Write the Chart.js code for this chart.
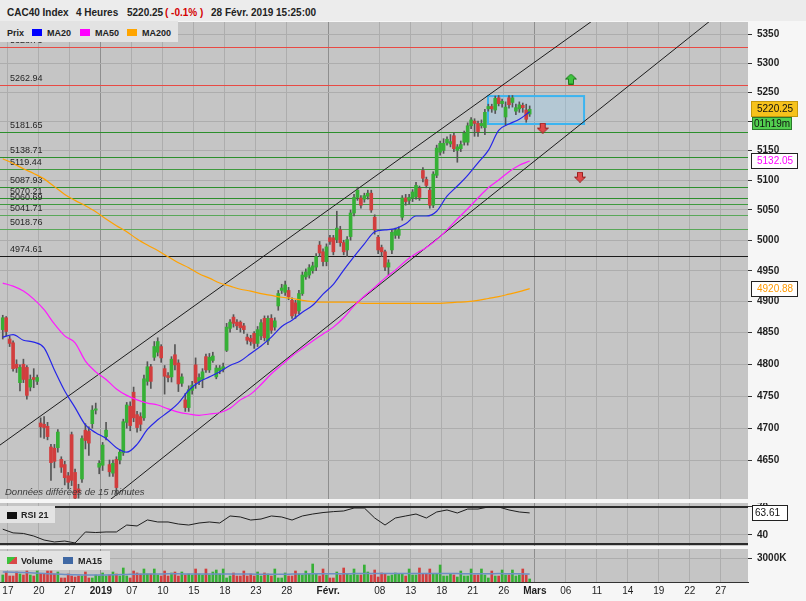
<!DOCTYPE html>
<html>
<head>
<meta charset="utf-8">
<script src="https://cdn.jsdelivr.net/npm/chart.js@4.4.1/dist/chart.umd.min.js"></script>
<style>
  body { margin: 0; background: #f6f6f6; font-family: 'Liberation Sans', Arial, sans-serif; }
  #wrap { position: relative; width: 806px; height: 601px; overflow: hidden; }
  canvas { position: absolute; left: 0; }
  .hdr { position: absolute; left: 0; top: 0; width: 806px; height: 21px; background: #ececec; font-weight: bold; font-size: 10px; color: #222; }
  .hdr span, .leg span { position: absolute; white-space: nowrap; line-height: 12px; }
  .hdr span { top: 7px; }
  .leg { position: absolute; left: 0; background: #e3e3e3; font-weight: bold; font-size: 9px; color: #222; }
  .leg .sq { width: 10px; height: 7px; }
  .note { position: absolute; left: 5px; top: 486px; font-size: 9.5px; font-style: italic; color: #3c3c3c; white-space: nowrap; }
</style>
</head>
<body>
<div id="wrap">
  <canvas id="main" width="806" height="477" style="top:22px"></canvas>
  <canvas id="rsi" width="806" height="43" style="top:503px"></canvas>
  <canvas id="vol" width="806" height="52" style="top:549px"></canvas>

  <div class="hdr">
    <span style="left:7px">CAC40 Index</span>
    <span style="left:76px">4 Heures</span>
    <span style="left:127px">5220.25</span>
    <span style="left:165px;color:#d40000">( -0.1% )</span>
    <span style="left:211px">28 Févr. 2019 15:25:00</span>
  </div>
  <div class="leg" style="top:21px;width:178px;height:21px">
    <span style="left:7px;top:6px">Prix</span>
    <span class="sq" style="left:32px;top:8px;background:#0000ff"></span>
    <span style="left:47px;top:6px">MA20</span>
    <span class="sq" style="left:80px;top:8px;background:#ff00ff"></span>
    <span style="left:95px;top:6px">MA50</span>
    <span class="sq" style="left:127px;top:8px;background:#ffa500"></span>
    <span style="left:142px;top:6px">MA200</span>
  </div>
  <div class="note">Données différées de 15 minutes</div>
  <div class="leg" style="top:506px;width:55px;height:17px">
    <span class="sq" style="left:7px;top:6px;background:#111"></span>
    <span style="left:21px;top:3px">RSI 21</span>
  </div>
  <div class="leg" style="top:551px;width:110px;height:19px">
    <span class="sq" style="left:7px;top:6px;background:linear-gradient(135deg,#3cc23c 50%,#d84848 50%)"></span>
    <span style="left:21px;top:4px">Volume</span>
    <span class="sq" style="left:63px;top:6px;background:#3f68a4"></span>
    <span style="left:78px;top:4px">MA15</span>
  </div>
</div>

<script>
// 4h bars, 17 Dec 2018 -> 28 Feb 2019, [open, high, low, close]
const candles = [
  [4855,4878,4840,4874],[4874,4876,4845,4852],[4840,4845,4828,4833],[4834,4837,4789,4793],[4800,4807,4787,4794],
  [4771,4799,4758,4795],[4800,4808,4771,4776],[4795,4798,4745,4751],[4764,4783,4758,4776],[4779,4793,4763,4776],
  [4773,4783,4768,4779],[4708,4716,4686,4702],[4706,4718,4684,4701],[4703,4709,4682,4687],[4671,4675,4620,4647],
  [4669,4675,4639,4649],[4670,4698,4663,4694],[4652,4656,4632,4640],[4644,4649,4613,4624],[4627,4632,4607,4617],
  [4690,4694,4612,4620],[4632,4637,4579,4593],[4607,4614,4593,4601],[4622,4688,4617,4684],[4697,4707,4668,4681],
  [4695,4702,4658,4677],[4707,4735,4700,4728],[4728,4739,4722,4730],[4640,4650,4630,4646],[4643,4678,4635,4674],
  [4687,4709,4682,4697],[4644,4651,4626,4633],[4631,4651,4626,4646],[4652,4656,4597,4609],[4651,4667,4645,4663],
  [4662,4714,4658,4710],[4709,4740,4700,4736],[4734,4741,4696,4704],[4756,4764,4710,4716],[4721,4726,4694,4701],
  [4718,4724,4696,4706],[4716,4783,4712,4777],[4773,4804,4767,4796],[4796,4800,4762,4773],[4811,4836,4806,4828],
  [4819,4842,4813,4836],[4828,4831,4803,4810],[4793,4798,4753,4781],[4782,4787,4772,4779],[4780,4812,4772,4808],
  [4815,4831,4791,4799],[4802,4807,4757,4769],[4770,4785,4765,4780],[4744,4754,4726,4732],[4732,4766,4726,4760],
  [4759,4773,4753,4767],[4799,4810,4762,4771],[4773,4785,4768,4779],[4776,4793,4763,4788],[4812,4816,4787,4791],
  [4791,4817,4787,4811],[4806,4819,4803,4813],[4780,4798,4777,4794],[4790,4798,4785,4794],[4792,4802,4788,4796],
  [4822,4865,4820,4859],[4857,4871,4851,4867],[4875,4879,4859,4865],[4867,4871,4855,4861],[4867,4869,4851,4858],
  [4861,4865,4849,4855],[4843,4848,4832,4838],[4841,4846,4830,4836],[4849,4852,4825,4833],[4833,4860,4828,4855],
  [4845,4871,4839,4866],[4873,4877,4837,4842],[4837,4877,4831,4873],[4873,4879,4849,4854],[4859,4874,4854,4869],
  [4893,4918,4886,4913],[4918,4928,4913,4922],[4915,4933,4910,4927],[4918,4923,4903,4908],[4902,4906,4873,4877],
  [4898,4902,4873,4881],[4885,4918,4880,4913],[4913,4948,4910,4943],[4940,4953,4936,4948],[4943,4960,4938,4955],
  [4950,4964,4946,4958],[4956,4978,4950,4973],[4992,4998,4973,4979],[4981,4986,4958,4965],[4965,4994,4958,4989],
  [5004,5008,4993,4998],[5004,5008,4976,4981],[5001,5048,4996,5020],[5017,5023,4990,4996],[4996,5000,4976,4981],
  [4984,5006,4973,5001],[5006,5050,5000,5045],[5045,5076,5040,5071],[5071,5088,5066,5083],[5070,5074,5053,5058],
  [5068,5078,5063,5074],[5073,5083,5068,5078],[5078,5083,5046,5050],[5038,5042,5010,5017],[5005,5008,4978,4984],
  [4988,4992,4973,4981],[4981,4984,4950,4956],[4956,4968,4943,4963],[4984,5018,4978,5013],[5008,5020,5003,5016],
  [5008,5022,5003,5017],[5038,5074,5033,5070],[5070,5076,5058,5064],[5066,5076,5060,5071],[5070,5084,5064,5080],
  [5072,5096,5068,5091],[5086,5090,5066,5071],[5116,5121,5097,5103],[5101,5105,5087,5091],[5083,5088,5053,5058],
  [5058,5114,5054,5110],[5108,5159,5104,5154],[5147,5166,5142,5162],[5150,5170,5145,5162],[5163,5173,5159,5169],
  [5161,5177,5156,5165],[5175,5180,5148,5153],[5150,5160,5130,5156],[5153,5166,5148,5160],[5164,5183,5159,5179],
  [5164,5197,5159,5192],[5192,5206,5187,5202],[5200,5204,5174,5196],[5196,5200,5174,5182],[5192,5202,5188,5196],
  [5189,5220,5177,5215],[5221,5229,5217,5225],[5225,5229,5215,5221],[5219,5243,5213,5239],[5240,5244,5226,5230],
  [5230,5238,5224,5234],[5207,5233,5193,5224],[5240,5244,5222,5228],[5232,5244,5224,5240],[5217,5229,5211,5223],
  [5221,5233,5215,5228],[5227,5231,5215,5223],[5219,5229,5198,5203],[5212,5226,5208,5220.25]
];

// volume per bar, thousands
const volumes = [
  875,1250,750,750,1250,1000,875,1375,875,750, 1375,1000,1000,1375,1375,1000,1250,500,500,1000,
  750,625,750,750,1250,500,500,875,750,1125, 750,875,1250,1000,750,1750,750,500,1375,1125,
  1000,1625,1000,1000,1625,875,750,1375,750,1125, 1250,750,1250,875,1000,875,1625,1000,875,1625,
  875,1250,1500,1000,1625,500,750,1125,750,750, 1375,750,1000,750,1250,750,1125,1000,750,1625,
  500,500,1125,750,750,1375,1000,875,1375,1000, 2250,1000,750,1625,875,500,500,1250,875,1750,
  1000,875,1625,875,875,2125,1250,875,1500,625, 1125,1000,750,875,1125,1000,
  1000,750,1625,875,875,1750,1000,1000,1625,1000, 1000,2125,750,750,1000,875,625,1375,750,750,
  1625,875,875,1625,875,500,1375,750,750,1500, 875,875,1500,750,875,1625,875,375
];

// indicators read every third bar (one per session)
const maStep = 3;
const ma20 = [4843,4847,4838,4835,4826,4791,4758,4732,4705,4693,4684,4670,4663,4675,4698,4713,4725,4739,4759,4772,
  4780,4788,4798,4805,4817,4829,4843,4860,4870,4883,4894,4912,4928,4951,4973,4994,5014,5017,5019,5027,
  5040,5040,5048,5073,5090,5108,5129,5150,5184,5195,5203,5216];
const ma50 = [4930,4925,4917,4904,4887,4864,4845,4834,4805,4788,4776,4761,4751,4744,4739,4736,4730,4725,4722,4720,
  4722,4724,4731,4744,4753,4768,4785,4799,4813,4825,4837,4848,4859,4874,4893,4909,4923,4938,4951,4966,
  4978,4988,5001,5017,5035,5052,5070,5087,5100,5114,5125,5132];
const ma200 = [5136,5128,5119,5111,5102,5089,5076,5066,5057,5047,5035,5024,5014,5002,4992,4983,4973,4963,4955,4945,
  4938,4930,4925,4920,4917,4913,4910,4907,4905,4902,4900,4899,4899,4899,4899,4897,4897,4897,4897,4897,
  4897,4897,4897,4898,4899,4900,4902,4905,4908,4912,4916,4921];
const rsi21 = [46,42,41.4,38.6,34.3,32.2,33.2,31.1,43,42.4,43,43,50.5,49.5,56,53.8,53.8,51.6,50.5,52.7,
  53.8,52.7,60.3,59.2,55.9,57,60.3,59.2,55.9,60.3,62.4,64,65,65.7,68.9,68.9,58.1,50.5,58.1,60.3,
  62.4,58.1,64.6,66.8,63.5,67.8,67.8,70,70,66.8,64.6,63.61];
const volMa15 = [1250,1220,1180,1120,1060,1000,950,900,880,870,890,920,950,980,1000,1010,1020,1020,1010,1000,
  990,990,1000,1000,990,970,960,970,990,1010,1020,1030,1040,1040,1050,1060,1060,1070,1060,1050,
  1050,1060,1070,1060,1050,1040,1040,1040,1050,1040,1030,1000];

// date axis (positions in bar units)
const dateTicks = [1.5,10.5,19.5,28.5,37.5,46.5,55.5,64.5,73.5,82.5,94.5,109.5,118.5,127.5,136.5,145.5,154.5,163.5,172.5,181.5,190.5,199.5,208.5];
const dateLabels = ['17','20','27','2019','07','10','15','18','23','28','Févr.','08','13','18','21','26','Mars','06','11','14','19','22','27'];
const monthTickIdx = [3, 10, 16];
const priceTicks = [4650,4700,4750,4800,4850,4900,4950,5000,5050,5100,5150,5200,5250,5300,5350];
const hiddenPriceLabels = [5200];  // sits under the last-price tag
const rsiTicks = [40, 70];
const volTicks = [3000];

// horizontal levels drawn on the chart
const levelValues = [5328.73,5262.94,5181.65,5138.71,5119.44,5087.93,5070.21,5060.69,5041.71,5018.76,4974.61];
const levelColors = ['#e84a44','#e84a44','#2c8f2c','#2c8f2c','#3f9a3f','#2c8f2c','#2c8f2c','#3f9a3f','#5aa85a','#5aa85a','#1a1a1a'];

// channel, zone and alert arrows
const channelUpper = [{ bar: -0.8, price: 4674 }, { bar: 179.2, price: 5409.5 }];
const channelLower = [{ bar: 28.2, price: 4578.2 }, { bar: 211.1, price: 5402.2 }];
const zone = { from: 140.9, to: 168.8, low: 5195, high: 5243 };
const arrowsUp = [{ bar: 165, price: 5272.5 }];
const arrowsDown = [{ bar: 156.8, price: 5188 }, { bar: 167.6, price: 5105 }];

const xMin = -0.8, xMax = 216.4;
const FONT = "'Liberation Sans', Arial, sans-serif";
Chart.defaults.font.family = FONT;

const GREEN = '#36b036', RED = '#d23e3e';
const isUp = i => candles[i][3] >= candles[i][0];

function arrowIcon(up, fill, stroke) {
  const c = document.createElement('canvas');
  c.width = 12; c.height = 11;
  const g = c.getContext('2d');
  g.beginPath();
  if (up) {
    g.moveTo(6, 0.5); g.lineTo(11.5, 5.5); g.lineTo(8.5, 5.5); g.lineTo(8.5, 10.5);
    g.lineTo(3.5, 10.5); g.lineTo(3.5, 5.5); g.lineTo(0.5, 5.5);
  } else {
    g.moveTo(6, 10.5); g.lineTo(11.5, 5.5); g.lineTo(8.5, 5.5); g.lineTo(8.5, 0.5);
    g.lineTo(3.5, 0.5); g.lineTo(3.5, 5.5); g.lineTo(0.5, 5.5);
  }
  g.closePath();
  g.fillStyle = fill; g.fill();
  g.strokeStyle = stroke; g.lineWidth = 1; g.stroke();
  return c;
}

const bgPlugin = {
  id: 'bg',
  beforeDraw(chart) {
    const { ctx, chartArea: a, width, height } = chart;
    ctx.save();
    ctx.fillStyle = '#f6f6f6';
    ctx.fillRect(0, 0, width, height);
    ctx.fillStyle = '#c5c5c5';
    ctx.fillRect(a.left, a.top, a.right - a.left, a.bottom - a.top);
    ctx.restore();
  }
};

const levelsPlugin = {
  id: 'levels',
  beforeDatasetsDraw(chart) {
    const { ctx, chartArea: a, scales: { x, y } } = chart;
    ctx.save();
    ctx.beginPath();
    ctx.rect(a.left, a.top, a.right - a.left, a.bottom - a.top);
    ctx.clip();
    ctx.font = '9px ' + FONT;
    ctx.textBaseline = 'bottom';
    levelValues.forEach((v, i) => {
      const py = Math.round(y.getPixelForValue(v)) + 0.5;
      ctx.strokeStyle = levelColors[i];
      ctx.lineWidth = 1;
      ctx.beginPath(); ctx.moveTo(a.left, py); ctx.lineTo(a.right, py); ctx.stroke();
      ctx.fillStyle = '#262626';
      ctx.fillText(v.toFixed(2), a.left + 10, py - 2);
    });
    const x0 = x.getPixelForValue(zone.from), x1 = x.getPixelForValue(zone.to);
    const y0 = y.getPixelForValue(zone.high), y1 = y.getPixelForValue(zone.low);
    ctx.fillStyle = 'rgba(150,205,240,0.35)';
    ctx.fillRect(x0, y0, x1 - x0, y1 - y0);
    ctx.strokeStyle = '#3cb4f0';
    ctx.lineWidth = 2;
    ctx.strokeRect(x0, y0, x1 - x0, y1 - y0);
    ctx.restore();
  }
};

// value tags in the right axis
const tagsPlugin = {
  id: 'tags',
  afterDraw(chart, args, opts) {
    const { ctx, chartArea: a, scales: { y } } = chart;
    let prevBottom = 0;
    ctx.save();
    ctx.font = '10px ' + FONT;
    ctx.textBaseline = 'middle';
    (opts.items || []).forEach(t => {
      const h = t.h || 16, w = t.w || 47;
      const top = t.below ? prevBottom : Math.round(y.getPixelForValue(t.value) - h / 2);
      const left = a.right + (t.dx || 3);
      ctx.fillStyle = t.bg;
      ctx.fillRect(left, top, w, h);
      ctx.strokeStyle = t.border;
      ctx.lineWidth = 1;
      ctx.strokeRect(left + 0.5, top + 0.5, w - 1, h - 1);
      ctx.fillStyle = t.color;
      ctx.fillText(t.text, left + (t.pad || 6), top + h / 2 + 0.5);
      prevBottom = top + h;
    });
    ctx.restore();
  }
};

const rsiLinesPlugin = {
  id: 'rsiLines',
  beforeDatasetsDraw(chart) {
    const { ctx, chartArea: a, scales: { y } } = chart;
    ctx.save();
    ctx.strokeStyle = '#2b2b2b';
    ctx.lineWidth = 2;
    [70, 30].forEach(v => {
      const py = Math.round(y.getPixelForValue(v));
      ctx.beginPath(); ctx.moveTo(a.left, py); ctx.lineTo(a.right, py); ctx.stroke();
    });
    ctx.restore();
  }
};

function dateAxis(showLabels) {
  return {
    type: 'linear', min: xMin, max: xMax, offset: false, bounds: 'data',
    afterBuildTicks: s => { s.ticks = dateTicks.map(v => ({ value: v })); },
    ticks: {
      display: showLabels, autoSkip: false, maxRotation: 0, padding: 3, color: '#1e1e1e',
      callback: (v, i) => dateLabels[i],
      font: c => ({ size: 10, weight: monthTickIdx.includes(c.index) ? 'bold' : 'normal' })
    },
    grid: {
      offset: false, drawTicks: false,
      color: c => monthTickIdx.includes(c.index) ? '#8e8e8e' : '#adadad'
    },
    border: showLabels ? { display: true, color: '#333', width: 1 } : { display: false },
    afterFit: s => {
      s.paddingLeft = 0; s.paddingRight = 0;
      if (showLabels) s.height = 19;
    }
  };
}

function valueAxis(type, min, max, tickValues, fmt) {
  return {
    type, min, max, position: 'right', bounds: 'data',
    afterBuildTicks: s => { s.ticks = tickValues.map(v => ({ value: v })); },
    afterFit: s => { s.width = 58; s.paddingTop = 0; s.paddingBottom = 0; },
    ticks: { color: '#1e1e1e', padding: 5, autoSkip: false, font: { size: 10, weight: 'bold' }, callback: fmt },
    grid: { color: '#adadad', tickColor: '#333', tickLength: 4 },
    border: { display: false }
  };
}

const baseOptions = {
  responsive: false,
  animation: false,
  events: [],
  layout: { padding: 0, autoPadding: false },
  plugins: { legend: { display: false }, tooltip: { enabled: false } }
};

// main price panel
new Chart(document.getElementById('main'), {
  type: 'bar',
  data: {
    datasets: [
      {
        type: 'line', order: 9, data: channelUpper.map(p => ({ x: p.bar, y: p.price })),
        borderColor: '#1c1c1c', borderWidth: 1, pointRadius: 0
      },
      {
        type: 'line', order: 9, data: channelLower.map(p => ({ x: p.bar, y: p.price })),
        borderColor: '#1c1c1c', borderWidth: 1, pointRadius: 0
      },
      {
        label: 'wick', order: 6, grouped: false, barThickness: 1,
        data: candles.map((c, i) => ({ x: i, y: [c[2], c[1]] })),
        backgroundColor: '#555555'
      },
      {
        label: 'body', order: 5, grouped: false, barThickness: 3, minBarLength: 1,
        data: candles.map((c, i) => ({ x: i, y: [c[0], c[3]] })),
        backgroundColor: c => isUp(c.dataIndex) ? GREEN : RED
      },
      {
        type: 'line', order: 4, data: ma200.map((v, k) => ({ x: k * maStep, y: v })),
        borderColor: '#ffa200', borderWidth: 1.2, pointRadius: 0, cubicInterpolationMode: 'monotone'
      },
      {
        type: 'line', order: 3, data: ma50.map((v, k) => ({ x: k * maStep, y: v })),
        borderColor: '#ff1aff', borderWidth: 1.2, pointRadius: 0, cubicInterpolationMode: 'monotone'
      },
      {
        type: 'line', order: 2, data: ma20.map((v, k) => ({ x: k * maStep, y: v })),
        borderColor: '#2626e8', borderWidth: 1.2, pointRadius: 0, cubicInterpolationMode: 'monotone'
      },
      {
        type: 'line', order: 1, showLine: false, data: arrowsUp.map(p => ({ x: p.bar, y: p.price })),
        pointStyle: arrowIcon(true, '#3ec43e', '#1f7a1f'), pointRadius: 6
      },
      {
        type: 'line', order: 1, showLine: false, data: arrowsDown.map(p => ({ x: p.bar, y: p.price })),
        pointStyle: arrowIcon(false, '#e24a4a', '#962020'), pointRadius: 6
      }
    ]
  },
  options: Object.assign({}, baseOptions, {
    plugins: Object.assign({}, baseOptions.plugins, {
      tags: {
        items: [
          { value: 5220.25, text: '5220.25', bg: '#f6c21c', border: '#c4980c', color: '#111' },
          { below: true, text: '01h19m', bg: '#52cf4f', border: '#2a7a2a', color: '#111', w: 40, h: 13, dx: 4, pad: 2 },
          { value: 5132.05, text: '5132.05', bg: '#ffffff', border: '#222', color: '#ff00ff' },
          { value: 4920.88, text: '4920.88', bg: '#ffffff', border: '#222', color: '#ff9900' }
        ]
      }
    }),
    scales: {
      x: dateAxis(false),
      y: valueAxis('logarithmic', 4591.7, 5372.4, priceTicks,
        v => hiddenPriceLabels.includes(v) ? '' : String(v))
    }
  }),
  plugins: [bgPlugin, levelsPlugin, tagsPlugin]
});

// RSI panel
new Chart(document.getElementById('rsi'), {
  type: 'line',
  data: {
    datasets: [{
      data: rsi21.map((v, k) => ({ x: k * maStep, y: v })),
      borderColor: '#1e1e1e', borderWidth: 1, pointRadius: 0
    }]
  },
  options: Object.assign({}, baseOptions, {
    plugins: Object.assign({}, baseOptions.plugins, {
      tags: { items: [{ value: 63.61, text: '63.61', bg: '#ffffff', border: '#222', color: '#111', w: 36, dx: 4, pad: 3 }] }
    }),
    scales: {
      x: dateAxis(false),
      y: valueAxis('linear', 27.84, 74.32, rsiTicks, v => String(v))
    }
  }),
  plugins: [bgPlugin, rsiLinesPlugin, tagsPlugin]
});

// volume panel with date axis
new Chart(document.getElementById('vol'), {
  type: 'bar',
  data: {
    datasets: [
      {
        type: 'line', order: 1, data: volMa15.map((v, k) => ({ x: k * maStep, y: v })),
        borderColor: '#6d8fc4', borderWidth: 1.5, pointRadius: 0, cubicInterpolationMode: 'monotone'
      },
      {
        order: 2, barThickness: 2, grouped: false,
        data: volumes.map((v, i) => ({ x: i, y: v })),
        backgroundColor: c => isUp(c.dataIndex) ? GREEN : RED
      }
    ]
  },
  options: Object.assign({}, baseOptions, {
    scales: {
      x: dateAxis(true),
      y: valueAxis('linear', 0, 4125, volTicks, v => v + 'K')
    }
  }),
  plugins: [bgPlugin]
});
</script>
</body>
</html>
